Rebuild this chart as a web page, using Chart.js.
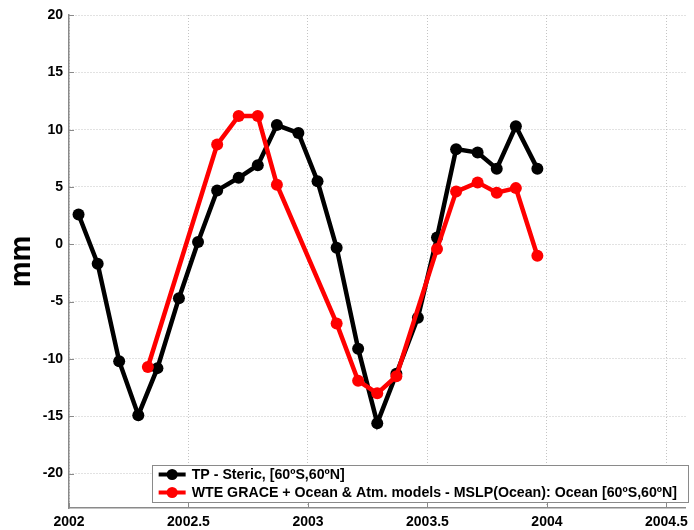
<!DOCTYPE html>
<html>
<head>
<meta charset="utf-8">
<script src="https://cdn.jsdelivr.net/npm/chart.js@4.4.1/dist/chart.umd.min.js"></script>
<style>
    html, body { margin: 0; padding: 0; background: #fff; }
    #chart { display: block; }
</style>
</head>
<body>
<canvas id="chart" width="694" height="530"></canvas>
<script>
// TP - Steric, monthly
const stericTime = [2002.04, 2002.12, 2002.21, 2002.29, 2002.37, 2002.46, 2002.54, 2002.62, 2002.71, 2002.79, 2002.87, 2002.96,
                    2003.04, 2003.12, 2003.21, 2003.29, 2003.37, 2003.46, 2003.54, 2003.62, 2003.71, 2003.79, 2003.87, 2003.96];
const stericValues = [2.6, -1.7, -10.2, -14.9, -10.8, -4.7, 0.2, 4.7, 5.8, 6.9, 10.4, 9.7,
                      5.5, -0.3, -9.1, -15.6, -11.3, -6.4, 0.6, 8.3, 8.0, 6.6, 10.3, 6.6];

// WTE GRACE + models
const graceTime = [2002.33, 2002.62, 2002.71, 2002.79, 2002.87, 2003.12, 2003.21, 2003.29, 2003.37,
                   2003.54, 2003.62, 2003.71, 2003.79, 2003.87, 2003.96];
const graceValues = [-10.7, 8.7, 11.2, 11.2, 5.2, -6.9, -11.9, -13.0, -11.5,
                     -0.4, 4.6, 5.4, 4.5, 4.9, -1.0];

const xTicks = [2002, 2002.5, 2003, 2003.5, 2004, 2004.5];
const yTicks = [-20, -15, -10, -5, 0, 5, 10, 15, 20];

const seriesLabels = ['TP - Steric, [60\u00baS,60\u00baN]',
                      'WTE GRACE + Ocean & Atm. models - MSLP(Ocean): Ocean [60\u00baS,60\u00baN]'];
const seriesColors = ['#000000', '#ff0000'];

const FONT = '"Liberation Sans", Arial, sans-serif';

function toPoints(xs, ys) {
    return xs.map((x, i) => ({ x: x, y: ys[i] }));
}

// short inward tick marks, matlab style
const tickMarks = {
    id: 'tickMarks',
    afterDatasetsDraw(chart) {
        const ctx = chart.ctx;
        const area = chart.chartArea;
        const xs = chart.scales.x;
        const ys = chart.scales.y;
        ctx.save();
        ctx.strokeStyle = '#8a8a8a';
        ctx.lineWidth = 1;
        ctx.beginPath();
        yTicks.forEach(v => {
            const py = Math.round(ys.getPixelForValue(v)) + 0.5;
            ctx.moveTo(area.left, py);
            ctx.lineTo(area.left + 5, py);
        });
        xTicks.forEach(v => {
            const px = Math.round(xs.getPixelForValue(v)) + 0.5;
            ctx.moveTo(px, area.bottom);
            ctx.lineTo(px, area.bottom - 5);
        });
        ctx.stroke();
        ctx.restore();
    }
};

const boxLegend = {
    id: 'boxLegend',
    afterDraw(chart) {
        const ctx = chart.ctx;
        const area = chart.chartArea;
        ctx.save();
        ctx.font = 'bold 14.2px ' + FONT;
        const textW = Math.max(...seriesLabels.map(t => ctx.measureText(t).width));
        const boxW = 40 + textW + 11;
        const boxH = 37;
        const right = 688;
        const bottom = area.bottom - 6;
        const left = right - boxW;
        const top = bottom - boxH;

        ctx.fillStyle = '#fff';
        ctx.fillRect(left, top, boxW, boxH);
        ctx.strokeStyle = '#8a8a8a';
        ctx.lineWidth = 1;
        ctx.strokeRect(Math.round(left) + 0.5, Math.round(top) + 0.5, Math.round(boxW), Math.round(boxH));

        seriesLabels.forEach((label, i) => {
            const cy = top + 9.5 + i * 18;
            ctx.strokeStyle = seriesColors[i];
            ctx.lineWidth = 4;
            ctx.beginPath();
            ctx.moveTo(left + 7, cy);
            ctx.lineTo(left + 34, cy);
            ctx.stroke();
            ctx.fillStyle = seriesColors[i];
            ctx.beginPath();
            ctx.arc(left + 20.5, cy, 5.5, 0, Math.PI * 2);
            ctx.fill();
            ctx.fillStyle = '#000';
            ctx.textBaseline = 'middle';
            ctx.textAlign = 'left';
            ctx.fillText(label, left + 40, cy + 0.5);
        });
        ctx.restore();
    }
};

const ctx = document.getElementById('chart').getContext('2d');

const chart = new Chart(ctx, {
    type: 'scatter',
    data: {
        datasets: [
            {
                label: seriesLabels[0],
                data: toPoints(stericTime, stericValues),
                showLine: true,
                borderColor: seriesColors[0],
                backgroundColor: seriesColors[0],
                borderWidth: 4.5,
                pointRadius: 6,
                pointBorderWidth: 0,
                order: 1
            },
            {
                label: seriesLabels[1],
                data: toPoints(graceTime, graceValues),
                showLine: true,
                borderColor: seriesColors[1],
                backgroundColor: seriesColors[1],
                borderWidth: 4.5,
                pointRadius: 6,
                pointBorderWidth: 0,
                order: 0
            }
        ]
    },
    options: {
        responsive: false,
        animation: false,
        layout: {
            padding: { top: 15, right: 0, bottom: 0, left: 0 }
        },
        plugins: {
            legend: { display: false },
            tooltip: { enabled: false }
        },
        scales: {
            x: {
                type: 'linear',
                min: 2002,
                max: 2004.58,
                afterBuildTicks: function(scale) {
                    scale.ticks = xTicks.map(v => ({ value: v }));
                },
                afterFit: function(scale) {
                    scale.height = 22;
                },
                ticks: {
                    autoSkip: false,
                    maxRotation: 0,
                    padding: 6,
                    color: '#000',
                    font: { family: FONT, size: 14, weight: 'bold' },
                    callback: function(value) {
                        return String(value);
                    }
                },
                grid: {
                    color: '#c4c4c4',
                    lineWidth: 1,
                    drawTicks: false
                },
                border: {
                    display: true,
                    color: '#8a8a8a',
                    width: 1.5,
                    dash: [1, 2]
                }
            },
            y: {
                type: 'linear',
                min: -23,
                max: 20,
                afterBuildTicks: function(scale) {
                    scale.ticks = yTicks.map(v => ({ value: v }));
                },
                afterFit: function(scale) {
                    scale.width = 69;
                },
                ticks: {
                    padding: 6,
                    color: '#000',
                    font: { family: FONT, size: 14, weight: 'bold' },
                    callback: function(value) {
                        return String(value);
                    }
                },
                grid: {
                    color: '#c4c4c4',
                    lineWidth: 1,
                    drawTicks: false
                },
                border: {
                    display: true,
                    color: '#8a8a8a',
                    width: 1.5,
                    dash: [1, 2]
                },
                title: {
                    display: true,
                    text: 'mm',
                    color: '#000',
                    font: { family: FONT, size: 29, weight: 'bold' },
                    padding: { top: 5, bottom: 0 }
                }
            }
        }
    },
    plugins: [tickMarks, boxLegend]
});
</script>
</body>
</html>
